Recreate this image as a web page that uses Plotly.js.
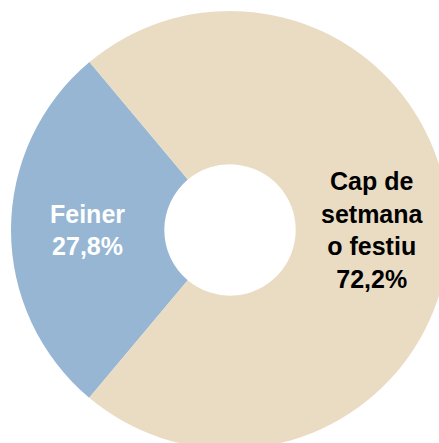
<!DOCTYPE html>
<html>
<head>
<meta charset="utf-8">
<script src="https://cdn.plot.ly/plotly-3.0.1.min.js"></script>
<style>
html,body{margin:0;padding:0;overflow:hidden;background:#fff;}
#chart{width:460px;height:460px;}
</style>
</head>
<body>
<div id="chart"></div>
<script>
var categories = ['Feiner', 'Cap de<br>setmana<br>o festiu'];
var values = [27.8, 72.2];
var colors = ['#96B6D3', '#E9DCC3'];
var textColors = ['#ffffff', '#000000'];

var hole = 0.3;
var fontSize = 25;
var fontFamily = 'Liberation Sans, Arial, sans-serif';

function fmt(v) { return v.toFixed(1).replace('.', ',') + '%'; }

var trace = {
  type: 'pie',
  labels: categories,
  values: values,
  hole: hole,
  sort: false,
  direction: 'counterclockwise',
  rotation: -140,
  marker: {colors: colors, line: {width: 0}},
  texttemplate: ['%{label}<br>%{value:.1f}%', ''],
  textposition: ['inside', 'none'],
  insidetextorientation: 'horizontal',
  textfont: {family: fontFamily, size: fontSize, color: textColors, weight: 'bold'},
  hoverinfo: 'none',
  showlegend: false
};

// label of the large slice placed at its mid-angle (3 o'clock), mid-ring radius
var midR = (1 + hole) / 2 * 0.5;
var layout = {
  width: 460,
  height: 460,
  margin: {l: 11, r: 11, t: 11, b: 11},
  separators: ',.',
  paper_bgcolor: '#ffffff',
  showlegend: false,
  annotations: [{
    xref: 'paper', yref: 'paper',
    x: 0.5 + midR, y: 0.5,
    xanchor: 'center', yanchor: 'middle',
    showarrow: false,
    text: categories[1] + '<br>' + fmt(values[1]),
    align: 'center',
    font: {family: fontFamily, size: fontSize, color: textColors[1], weight: 'bold'}
  }]
};

Plotly.newPlot('chart', [trace], layout, {displayModeBar: false, staticPlot: true});
</script>
</body>
</html>
